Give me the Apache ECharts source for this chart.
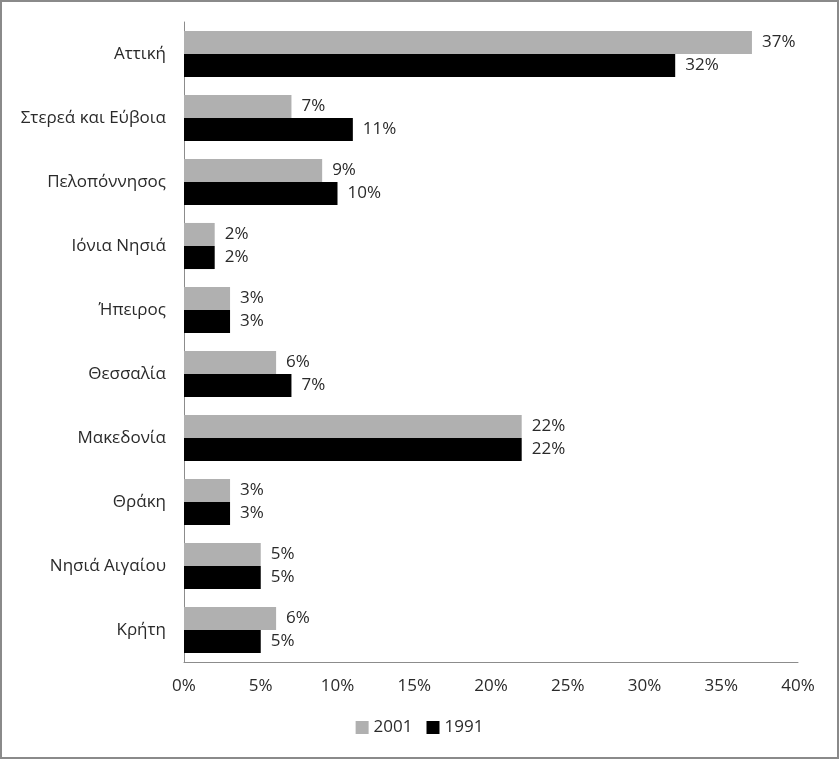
<!DOCTYPE html>
<html><head><meta charset="utf-8">
<script src="https://cdn.jsdelivr.net/npm/echarts@6/dist/echarts.min.js"></script>
<style>html,body{margin:0;padding:0;background:#fff}#c{width:839px;height:759px;box-sizing:border-box;border:2px solid #8a8a8a}</style>
</head><body><div id="c"></div>
<script>
const categories = ['Αττική','Στερεά και Εύβοια','Πελοπόννησος','Ιόνια Νησιά','Ήπειρος','Θεσσαλία','Μακεδονία','Θράκη','Νησιά Αιγαίου','Κρήτη'];
const values2001 = [37,7,9,2,3,6,22,3,5,6];
const values1991 = [32,11,10,2,3,7,22,3,5,5];
const xTicks = {min:0, max:40, interval:5};
const font = '"Open Sans", sans-serif';
const chart = echarts.init(document.getElementById('c'), null, {renderer:'canvas'});
const lbl = {show:true, position:'right', formatter:'{c}%', color:'#2a2a2a', fontSize:17, fontFamily:font, distance:10};
chart.setOption({
  animation:false,
  textStyle:{fontFamily:font},
  grid:{left:182, right:39, top:20, bottom:95, containLabel:false},
  legend:{bottom:16, left:'center', itemWidth:13, itemHeight:13, itemGap:14, icon:'rect',
    textStyle:{color:'#2a2a2a', fontSize:17, fontFamily:font}, data:['2001','1991']},
  xAxis:{type:'value', min:xTicks.min, max:xTicks.max, interval:xTicks.interval,
    axisLine:{show:true, lineStyle:{color:'#8c8c8c', width:1}}, axisTick:{show:false},
    splitLine:{show:false},
    axisLabel:{formatter:'{value}%', color:'#2a2a2a', fontSize:17, fontFamily:font, margin:16}},
  yAxis:{type:'category', data:categories, inverse:true,
    axisLine:{show:true, lineStyle:{color:'#8c8c8c', width:1}}, axisTick:{show:false},
    axisLabel:{color:'#2a2a2a', fontSize:17, fontFamily:font, margin:18}},
  series:[
    {name:'2001', type:'bar', data:values2001, itemStyle:{color:'#b0b0b0'}, barGap:'0%', barCategoryGap:'28%', label:lbl},
    {name:'1991', type:'bar', data:values1991, itemStyle:{color:'#000'}, barGap:'0%', barCategoryGap:'28%', label:lbl}
  ]
});
</script></body></html>
